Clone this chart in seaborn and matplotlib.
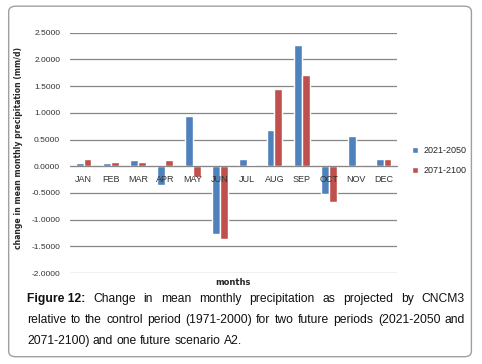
import numpy as np
import pandas as pd
import matplotlib
matplotlib.use("Agg")
import matplotlib.pyplot as plt
import seaborn as sns
from matplotlib.patches import FancyBboxPatch

# data
months = ['JAN', 'FEB', 'MAR', 'APR', 'MAY', 'JUN', 'JUL', 'AUG', 'SEP', 'OCT', 'NOV', 'DEC']
p2021_2050 = [0.06, 0.06, 0.12, -0.35, 0.94, -1.27, 0.13, 0.68, 2.27, -0.52, 0.56, 0.13]
p2071_2100 = [0.13, 0.08, 0.08, 0.12, -0.20, -1.36, 0.02, 1.44, 1.71, -0.67, 0.00, 0.13]
periods = ['2021-2050', '2071-2100']
colors = ['#4F81BD', '#C0504D']

df = pd.DataFrame({
    'month': months * 2,
    'change': p2021_2050 + p2071_2100,
    'period': [periods[0]] * 12 + [periods[1]] * 12,
})

sns.set_style("white")
plt.rcParams['font.family'] = ['Liberation Sans', 'DejaVu Sans']

fig = plt.figure(figsize=(4.82, 3.64), dpi=100)
ax = fig.add_axes([0.145, 0.25, 0.679, 0.66])

sns.barplot(data=df, x='month', y='change', hue='period', palette=colors, saturation=1,
            order=months, hue_order=periods, width=0.58, ax=ax, legend=True, zorder=3)

ax.set_ylim(-2.0, 2.5)
ax.set_yticks(np.arange(-2.0, 2.51, 0.5))
ax.set_yticklabels([f"{v:.4f}" for v in np.arange(-2.0, 2.51, 0.5)], fontsize=6, color='#333333')
ax.yaxis.grid(True, color='#878787', linewidth=0.9, zorder=0)
ax.set_axisbelow(True)
for s in ['left', 'right', 'top']:
    ax.spines[s].set_visible(False)
ax.spines['bottom'].set_position(('data', 0))
ax.spines['bottom'].set_color('#878787')
ax.spines['bottom'].set_zorder(4)
ax.xaxis.set_zorder(5)
ax.tick_params(axis='both', length=0)
ax.tick_params(axis='x', labelsize=6.5, pad=6, labelcolor='#333333')
ax.tick_params(axis='y', pad=7)
ax.set_xlim(-0.5, 11.5)
ax.set_xlabel('')
ax.set_ylabel('change in mean monthly precipitation (mm/d)', fontsize=5.6, fontweight='bold',
              family=['DejaVu Sans'])
ax.yaxis.set_label_coords(-0.144, 0.52)
fig.text(0.484, 0.223, 'months', ha='center', va='center', fontsize=6, fontweight='bold',
         family=['DejaVu Sans'])

h, l = ax.get_legend_handles_labels()
ax.legend(h, l, loc='center left', bbox_to_anchor=(1.02, 0.467), frameon=False, fontsize=6.5,
          handlelength=0.7, handleheight=0.7, labelspacing=1.2, handletextpad=0.6)

# rounded frame around the whole figure
frame = FancyBboxPatch((0.018, 0.02), 0.96, 0.963, boxstyle="round,pad=0,rounding_size=0.015",
                       transform=fig.transFigure, fill=False, edgecolor='#a0a0a0', linewidth=1.0)
fig.patches.append(frame)

# justified caption
lines = [
    [('Figure 12:', 'bold'), ('Change', 'normal'), ('in', 'normal'), ('mean', 'normal'), ('monthly', 'normal'),
     ('precipitation', 'normal'), ('as', 'normal'), ('projected', 'normal'), ('by', 'normal'), ('CNCM3', 'normal')],
    [(w, 'normal') for w in 'relative to the control period (1971-2000) for two future periods (2021-2050 and'.split()],
    [(w, 'normal') for w in '2071-2100) and one future scenario A2.'.split()],
]
x0, x1 = 27 / 482, 465 / 482
ys = [1 - 299 / 364, 1 - 320 / 364, 1 - 341 / 364]
renderer = fig.canvas.get_renderer()
for i, (words, y) in enumerate(zip(lines, ys)):
    texts = [fig.text(0, y, w, fontsize=8.7, fontweight=wt, va='center', ha='left', color='#111111')
             for w, wt in words]
    widths = [t.get_window_extent(renderer).width / fig.bbox.width for t in texts]
    if i < len(lines) - 1:
        gap = (x1 - x0 - sum(widths)) / (len(words) - 1)
    else:
        sp = fig.text(0, 0, 'a b', fontsize=8.7)
        gap = (sp.get_window_extent(renderer).width - fig.text(0, 0, 'ab', fontsize=8.7).get_window_extent(renderer).width) / fig.bbox.width
        for t in fig.texts[-2:]:
            t.remove()
    x = x0
    for t, w in zip(texts, widths):
        t.set_x(x)
        x += w + gap

fig.savefig('out.png', dpi=100)
